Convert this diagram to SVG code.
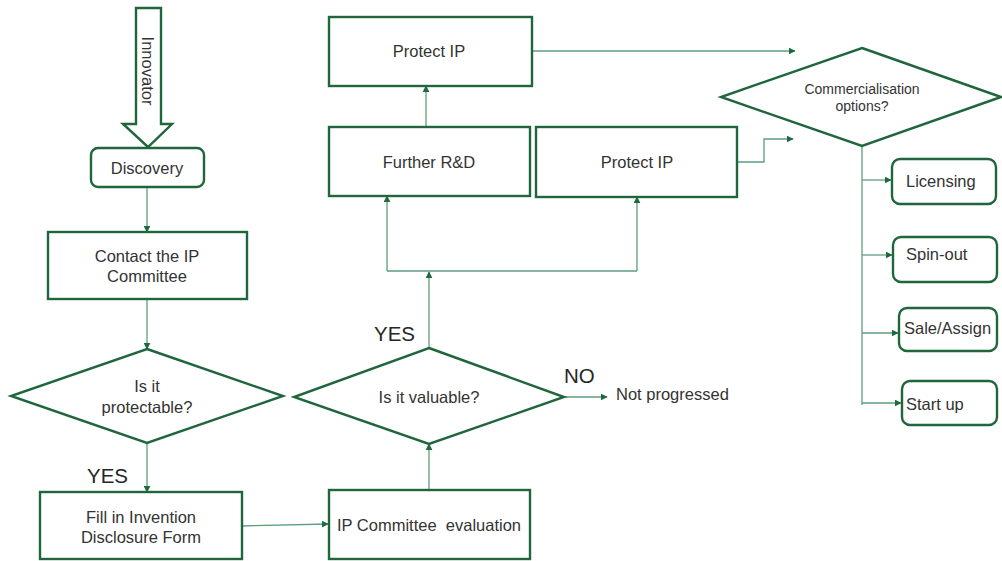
<svg xmlns="http://www.w3.org/2000/svg" width="1002" height="561" viewBox="0 0 1002 561">
<style>
.box{fill:#fff;stroke:#1f663c;stroke-width:2.4}
.t{font-family:"Liberation Sans",Arial,sans-serif;font-size:16.5px;fill:#333;text-anchor:middle;dominant-baseline:central}
.tl{text-anchor:start}
.big{font-size:20.5px;fill:#262626}
.sm{font-size:14px}
.c{fill:none;stroke:#5b9f7c;stroke-width:1.3}
</style>
<defs>
<marker id="ah" viewBox="0 0 10 10" refX="9" refY="5" markerWidth="7" markerHeight="7" markerUnits="userSpaceOnUse" orient="auto">
<path d="M0,0 L10,5 L0,10 z" fill="#1f6b40"/>
</marker>
</defs>
<rect width="1002" height="561" fill="#fff"/>

<g id="connectors">
<path class="c" d="M147,187 V232" marker-end="url(#ah)"/>
<path class="c" d="M147,299 V349" marker-end="url(#ah)"/>
<path class="c" d="M147,443 V492" marker-end="url(#ah)"/>
<path class="c" d="M242,526 L328,524" marker-end="url(#ah)"/>
<path class="c" d="M429,490 V444" marker-end="url(#ah)"/>
<path class="c" d="M564,397 H607" marker-end="url(#ah)"/>
<path class="c" d="M429,348 V272" marker-end="url(#ah)"/>
<path class="c" d="M387,271 H637"/>
<path class="c" d="M387,271 V196" marker-end="url(#ah)"/>
<path class="c" d="M637,271 V197" marker-end="url(#ah)"/>
<path class="c" d="M426,127 V86" marker-end="url(#ah)"/>
<path class="c" d="M532,51 H795" marker-end="url(#ah)"/>
<path class="c" d="M737,162 H764 V139 H793" marker-end="url(#ah)"/>
<path class="c" d="M862,146 V405"/>
<path class="c" d="M862,180 H891" marker-end="url(#ah)"/>
<path class="c" d="M862,255 H892" marker-end="url(#ah)"/>
<path class="c" d="M862,333 H898" marker-end="url(#ah)"/>
<path class="c" d="M862,403 H901" marker-end="url(#ah)"/>
</g>

<g id="innovator">
<path class="box" d="M136,8 H161 V124 H172 L148,147 L123,124 H136 Z"/>
<text class="t" transform="translate(148,71) rotate(90)">Innovator</text>
</g>

<g id="discovery">
<rect class="box" x="91" y="148" width="113" height="39" rx="7"/>
<text class="t" x="147" y="168">Discovery</text>
</g>

<g id="contact">
<rect class="box" x="48" y="232" width="199" height="67"/>
<text class="t" x="147" y="256">Contact the IP</text>
<text class="t" x="147" y="276">Committee</text>
</g>

<g id="protectable">
<polygon class="box" points="147,349 283,396 147,443 11,396"/>
<text class="t" x="147" y="386">Is it</text>
<text class="t" x="147" y="407">protectable?</text>
<text class="t big tl" x="87" y="475">YES</text>
</g>

<g id="fill-form">
<rect class="box" x="40" y="492" width="202" height="67"/>
<text class="t" x="141" y="517">Fill in Invention</text>
<text class="t" x="141" y="537">Disclosure Form</text>
</g>

<g id="evaluation">
<rect class="box" x="329" y="490" width="201" height="69"/>
<text class="t" x="429" y="525" xml:space="preserve">IP Committee  evaluation</text>
</g>

<g id="valuable">
<polygon class="box" points="429,348 564,397 429,444 294,397"/>
<text class="t" x="429" y="397">Is it valuable?</text>
<text class="t big tl" x="374" y="333">YES</text>
<text class="t big tl" x="564" y="375">NO</text>
</g>

<g id="not-progressed">
<text class="t tl" x="616" y="394">Not progressed</text>
</g>

<g id="further-rd">
<rect class="box" x="329" y="127" width="201" height="69"/>
<text class="t" x="429" y="162">Further R&amp;D</text>
</g>

<g id="protect-ip-2">
<rect class="box" x="536" y="127" width="201" height="70"/>
<text class="t" x="637" y="162">Protect IP</text>
</g>

<g id="protect-ip-1">
<rect class="box" x="329" y="17" width="203" height="69"/>
<text class="t" x="429" y="51">Protect IP</text>
</g>

<g id="commercialisation">
<polygon class="box" points="862,48 1001,97 862,146 721,97"/>
<text class="t sm" x="862" y="89">Commercialisation</text>
<text class="t sm" x="862" y="106">options?</text>
</g>

<g id="licensing">
<rect class="box" x="892" y="159" width="104" height="45" rx="8"/>
<text class="t tl" x="906" y="181">Licensing</text>
</g>

<g id="spin-out">
<rect class="box" x="893" y="237" width="104" height="45" rx="8"/>
<text class="t tl" x="906" y="254">Spin-out</text>
</g>

<g id="sale-assign">
<rect class="box" x="899" y="308" width="98" height="43" rx="8"/>
<text class="t tl" x="904" y="328">Sale/Assign</text>
</g>

<g id="start-up">
<rect class="box" x="902" y="381" width="95" height="44" rx="8"/>
<text class="t tl" x="906" y="404">Start up</text>
</g>
</svg>
